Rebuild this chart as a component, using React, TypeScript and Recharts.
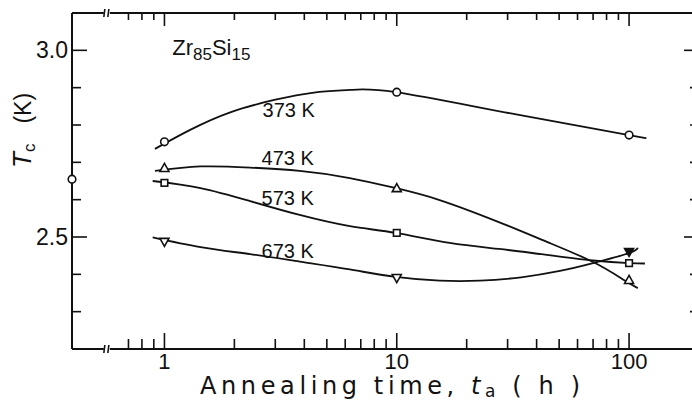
import { LineChart, Line, XAxis, YAxis, ReferenceDot, Label } from "recharts";

const FONT = '"Liberation Sans", Arial, sans-serif';
const INK = "#111";

// measured Tc (K) after annealing for t (h)
const markerTimes = [1, 10, 100];
const tc373K = [2.755, 2.888, 2.773];
const tc473K = [2.685, 2.631, 2.385];
const tc573K = [2.645, 2.511, 2.43];
const tc673K = [2.487, 2.39, 2.46];
const filled673K = [false, false, true];

// as-quenched value, drawn on the left axis
const asQuenchedTime = [0.4];
const asQuenchedTc = [2.655];

// hand-drawn guide curves
const curve373Times = [0.91, 1.29, 1.92, 2.97, 4.4, 6.3, 9.9, 31, 100, 113];
const curve373Tc = [2.736, 2.787, 2.834, 2.867, 2.887, 2.894, 2.888, 2.831, 2.773, 2.767];
const curve473Times = [0.91, 1.43, 2.34, 3.82, 6.28, 9.9, 15.3, 27.5, 44.3, 70, 95, 109];
const curve473Tc = [2.677, 2.689, 2.686, 2.677, 2.658, 2.631, 2.599, 2.54, 2.487, 2.433, 2.385, 2.363];
const curve573Times = [0.89, 1.43, 2.34, 3.82, 6.28, 9.9, 16.9, 27.5, 44.3, 70, 100, 117];
const curve573Tc = [2.65, 2.631, 2.596, 2.559, 2.529, 2.511, 2.484, 2.468, 2.452, 2.437, 2.43, 2.429];
const curve673Times = [0.89, 1.43, 2.34, 3.82, 6.28, 9.9, 15.3, 22.8, 34.3, 50.4, 70, 100, 109];
const curve673Tc = [2.499, 2.473, 2.454, 2.434, 2.413, 2.393, 2.383, 2.383, 2.392, 2.409, 2.43, 2.457, 2.471];

const xTicks = [0.7, 0.8, 0.9, 1, 2, 3, 4, 5, 6, 7, 8, 9, 10, 20, 30, 40, 50, 60, 70, 80, 90, 100];
const xMajor = [1, 10, 100];
const yTicks = [2.3, 2.4, 2.5, 2.6, 2.7, 2.8, 2.9, 3.0];
const yMajor = [2.5, 3.0];

const X_MIN = 0.4;
const X_MAX = 200;
const Y_MIN = 2.2;
const Y_MAX = 3.1;

const curveLabels = [
  { text: "373 K", t: 2.645, tc: 2.821 },
  { text: "473 K", t: 2.62, tc: 2.693 },
  { text: "573 K", t: 2.62, tc: 2.586 },
  { text: "673 K", t: 2.62, tc: 2.444 },
];

const toRows = (ts: number[], tcs: number[]) => ts.map((t, i) => ({ t, tc: tcs[i] }));

const CHART_W = 720;
const CHART_H = 402;

type Kind = "circle" | "up" | "square" | "down";

function Marker({ cx, cy, kind, filled }: { cx: number; cy: number; kind: Kind; filled?: boolean }) {
  const common = { stroke: INK, strokeWidth: 1.6, fill: filled ? INK : "#fff" };
  if (kind === "circle") return <circle cx={cx} cy={cy} r={3.8} {...common} />;
  if (kind === "square") return <rect x={cx - 3.3} y={cy - 3.3} width={6.6} height={6.6} {...common} />;
  if (kind === "up")
    return <polygon points={`${cx - 4.5},${cy + 3.5} ${cx + 4.5},${cy + 3.5} ${cx},${cy - 4.5}`} {...common} />;
  return <polygon points={`${cx - 4.5},${cy - 3.5} ${cx + 4.5},${cy - 3.5} ${cx},${cy + 4.5}`} {...common} />;
}

// axis tick labels (majors only)
function BottomLabel(props: any) {
  const v = props.payload.value;
  if (!xMajor.includes(v)) return <g />;
  return (
    <text x={Number(props.x)} y={Number(props.y) + 20} textAnchor="middle" fontSize={22} fontFamily={FONT} fill={INK}>
      {v}
    </text>
  );
}

function LeftLabel(props: any) {
  const v = props.payload.value;
  if (!yMajor.includes(v)) return <g />;
  return (
    <text x={Number(props.x) - 4} y={Number(props.y) + 8} textAnchor="end" fontSize={23} fontFamily={FONT} fill={INK}>
      {v.toFixed(1)}
    </text>
  );
}

// inward tick marks, drawn by the overlay chart
function TickMark(props: any) {
  const x = Number(props.x);
  const y = Number(props.y);
  const v = props.payload.value;
  const side = props.side;
  let d = "";
  if (side === "bottom") d = `M${x},${y}V${y - (xMajor.includes(v) ? 16 : 10)}`;
  if (side === "top") d = `M${x},${y}V${y + (xMajor.includes(v) ? 13 : 7)}`;
  if (side === "left") d = `M${x},${y}H${x + (yMajor.includes(v) ? 15 : 9)}`;
  if (side === "right") d = `M${x},${y}H${x - (yMajor.includes(v) ? 15 : 9)}`;
  return <path d={d} stroke={INK} strokeWidth={1.6} fill="none" />;
}

function XTitle({ viewBox }: any) {
  return (
    <text
      x={viewBox.x + 128}
      y={viewBox.y + 45}
      fontSize={24}
      fontFamily='"DejaVu Sans", sans-serif'
      fill={INK}
      textLength={380}
      lengthAdjust="spacing"
    >
      {"Annealing time, "}
      <tspan fontStyle="italic">t</tspan>
      <tspan fontSize={17} dy={3}>a</tspan>
      <tspan dy={-3}>{" ( h )"}</tspan>
    </text>
  );
}

function YTitle() {
  return (
    <text transform="translate(31,168) rotate(-90)" fontFamily={FONT} fill={INK}>
      <tspan fontSize={26} fontStyle="italic">T</tspan>
      <tspan fontSize={17} dy={4}>c</tspan>
      <tspan fontSize={23} dy={-4} dx={20}>(K)</tspan>
    </text>
  );
}

// "//" axis break mark
function BreakMark({ cx, cy }: any) {
  return (
    <g>
      <rect x={cx - 3} y={cy - 3} width={6} height={6} fill="#fff" />
      <line x1={cx - 3} y1={cy + 4} x2={cx - 2} y2={cy - 4} stroke={INK} strokeWidth={1.6} />
      <line x1={cx + 1} y1={cy + 4} x2={cx + 2} y2={cy - 4} stroke={INK} strokeWidth={1.6} />
    </g>
  );
}

const series = [
  { times: curve373Times, tcs: curve373Tc, marks: tc373K, kind: "circle" as Kind },
  { times: curve473Times, tcs: curve473Tc, marks: tc473K, kind: "up" as Kind },
  { times: curve573Times, tcs: curve573Tc, marks: tc573K, kind: "square" as Kind },
  { times: curve673Times, tcs: curve673Tc, marks: tc673K, kind: "down" as Kind },
];

const refProps = { xAxisId: "bottom", yAxisId: "left", r: 0, ifOverflow: "visible" as const };

// same frame as the main chart; only draws the inward tick marks on all four sides
function TickOverlay() {
  const axisCommon = { type: "number" as const, tickSize: 0, tickMargin: 0, tickLine: false, axisLine: false, interval: 0 as const };
  return (
    <LineChart width={CHART_W} height={CHART_H} margin={{ top: 0, right: 0, bottom: 0, left: 0 }}>
      <XAxis xAxisId="bottom" dataKey="t" scale="log" domain={[X_MIN, X_MAX]} ticks={xTicks} height={53} tick={<TickMark side="bottom" />} {...axisCommon} />
      <XAxis xAxisId="top" orientation="top" dataKey="t" scale="log" domain={[X_MIN, X_MAX]} ticks={xTicks} height={13} tick={<TickMark side="top" />} {...axisCommon} />
      <YAxis yAxisId="left" domain={[Y_MIN, Y_MAX]} ticks={yTicks} width={72} tick={<TickMark side="left" />} {...axisCommon} />
      <YAxis yAxisId="right" orientation="right" domain={[Y_MIN, Y_MAX]} ticks={yTicks} width={21} tick={<TickMark side="right" />} {...axisCommon} />
      <Line xAxisId="bottom" yAxisId="left" data={toRows(markerTimes, tc373K)} dataKey="tc" stroke="none" dot={false} activeDot={false} isAnimationActive={false} />
      <Line xAxisId="top" yAxisId="right" data={toRows(markerTimes, tc373K)} dataKey="tc" stroke="none" dot={false} activeDot={false} isAnimationActive={false} />
    </LineChart>
  );
}

export default function App() {
  return (
    <div
      style={{
        position: "fixed",
        left: 0,
        top: 0,
        width: 692,
        height: 402,
        overflow: "hidden",
        background: "#fff",
      }}
    >
      <div style={{ position: "absolute", left: 0, top: 0 }}>
        <LineChart width={CHART_W} height={CHART_H} margin={{ top: 0, right: 0, bottom: 0, left: 0 }}>
          <XAxis
            xAxisId="bottom"
            dataKey="t"
            type="number"
            scale="log"
            domain={[X_MIN, X_MAX]}
            ticks={xTicks}
            interval={0}
            height={53}
            tickSize={0}
            tickMargin={0}
            tickLine={false}
            tick={<BottomLabel />}
            axisLine={{ stroke: INK, strokeWidth: 2 }}
            label={<Label content={<XTitle />} />}
          />
          <XAxis
            xAxisId="top"
            orientation="top"
            type="number"
            scale="log"
            domain={[X_MIN, X_MAX]}
            height={13}
            tick={false}
            tickLine={false}
            axisLine={{ stroke: INK, strokeWidth: 2 }}
          />
          <YAxis
            yAxisId="left"
            type="number"
            domain={[Y_MIN, Y_MAX]}
            ticks={yTicks}
            interval={0}
            width={72}
            tickSize={0}
            tickMargin={0}
            tickLine={false}
            tick={<LeftLabel />}
            axisLine={{ stroke: INK, strokeWidth: 2 }}
            label={<Label content={<YTitle />} />}
          />
          <YAxis
            yAxisId="right"
            orientation="right"
            type="number"
            domain={[Y_MIN, Y_MAX]}
            width={21}
            tick={false}
            tickLine={false}
            axisLine={{ stroke: INK, strokeWidth: 2 }}
          />

          {series.map((s) => (
            <Line
              key={`curve-${s.kind}`}
              xAxisId="bottom"
              yAxisId="left"
              data={toRows(s.times, s.tcs)}
              dataKey="tc"
              type="natural"
              stroke={INK}
              strokeWidth={1.8}
              dot={false}
              activeDot={false}
              isAnimationActive={false}
            />
          ))}

          {series.map((s) => (
            <Line
              key={`marks-${s.kind}`}
              xAxisId="bottom"
              yAxisId="left"
              data={toRows(markerTimes, s.marks)}
              dataKey="tc"
              stroke="none"
              dot={(p: any) => (
                <Marker
                  key={`${s.kind}-${p.index}`}
                  cx={p.cx}
                  cy={p.cy}
                  kind={s.kind}
                  filled={s.kind === "down" && filled673K[p.index]}
                />
              )}
              activeDot={false}
              isAnimationActive={false}
            />
          ))}

          <Line
            xAxisId="bottom"
            yAxisId="left"
            data={toRows(asQuenchedTime, asQuenchedTc)}
            dataKey="tc"
            stroke="none"
            dot={(p: any) => <Marker key={`aq-${p.index}`} cx={p.cx} cy={p.cy} kind="circle" />}
            activeDot={false}
            isAnimationActive={false}
          />

          <ReferenceDot {...refProps} x={0.565} y={Y_MIN} shape={<BreakMark />} />
          <ReferenceDot {...refProps} x={0.565} y={Y_MAX} shape={<BreakMark />} />

          <ReferenceDot
            {...refProps}
            x={1.08}
            y={2.988}
            shape={(p: any) => (
              <text x={p.cx} y={p.cy} fontSize={22} fontFamily={FONT} fill={INK}>
                Zr
                <tspan fontSize={17} dy={5}>85</tspan>
                <tspan dy={-5}>Si</tspan>
                <tspan fontSize={17} dy={5}>15</tspan>
              </text>
            )}
          />
          {curveLabels.map((c) => (
            <ReferenceDot
              key={c.text}
              {...refProps}
              x={c.t}
              y={c.tc}
              shape={(p: any) => (
                <text x={p.cx} y={p.cy} fontSize={20} fontFamily={FONT} fill={INK}>
                  {c.text}
                </text>
              )}
            />
          ))}
        </LineChart>
      </div>
      <div style={{ position: "absolute", left: 0, top: 0, pointerEvents: "none" }}>
        <TickOverlay />
      </div>
    </div>
  );
}
